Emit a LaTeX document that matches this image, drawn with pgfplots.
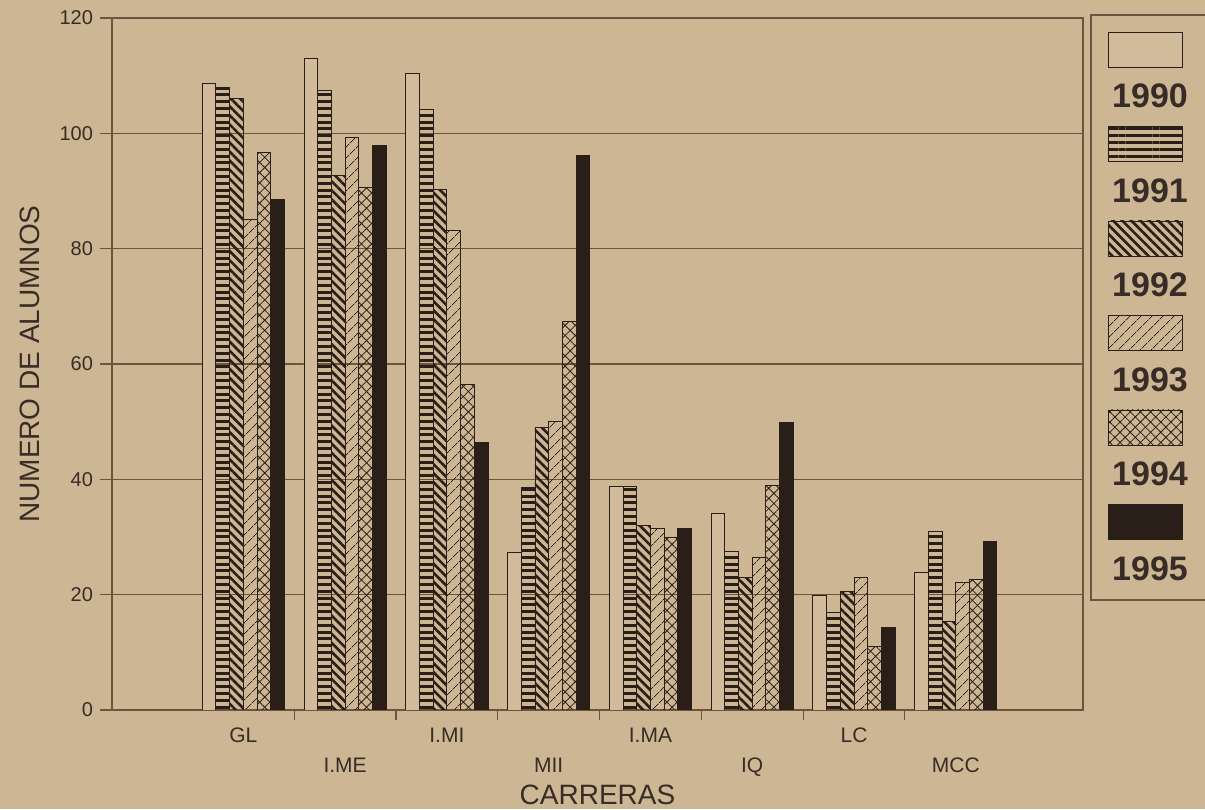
\documentclass[border=0pt]{standalone}
\usepackage{pgfplots}
\pgfplotsset{compat=1.18}
\usepackage{pgfplotstable}
\usepackage{fontspec}
\setmainfont{Liberation Sans}
\usetikzlibrary{patterns.meta}

\definecolor{paper}{RGB}{205,182,147}
\definecolor{ink}{RGB}{42,30,24}
\definecolor{rule}{RGB}{110,84,64}
\definecolor{txt}{RGB}{55,44,38}

\tikzset{
  s1990/.style={draw=ink, line width=0.45pt, fill=paper!93!white},
  s1991/.style={draw=ink, line width=0.45pt, pattern={Lines[angle=0,distance=3.4pt,line width=1.5pt]}, pattern color=ink},
  s1992/.style={draw=ink, line width=0.45pt, pattern={Lines[angle=-45,distance=3.2pt,line width=1.3pt]}, pattern color=ink},
  s1993/.style={draw=ink, line width=0.45pt, pattern={Lines[angle=45,distance=4pt,line width=0.4pt]}, pattern color=ink},
  s1994/.style={draw=ink, line width=0.45pt, pattern={Hatch[angle=45,distance=3.6pt,line width=0.4pt]}, pattern color=ink},
  s1995/.style={draw=ink, line width=0.45pt, fill=ink},
}

% alumnos por carrera y año
\pgfplotstableread{
x  a1990 a1991 a1992 a1993 a1994 a1995
0  108.6 108.0 106.0  85.0  96.6  88.5
1  113.0 107.5  92.7  99.2  90.6  97.9
2  110.3 104.2  90.2  83.2  56.4  46.4
3   27.3  38.6  49.0  50.0  67.4  96.2
4   38.7  38.7  32.0  31.5  30.0  31.4
5   34.0  27.5  23.0  26.5  39.0  49.9
6   19.8  16.9  20.6  22.9  11.0  14.3
7   23.8  30.9  15.3  22.2  22.6  29.2
}\alumnos

\begin{document}
\begin{tikzpicture}
\useasboundingbox (0,0) rectangle (602.5pt,404.5pt);
\fill[paper] (0,0) rectangle (602.5pt,404.5pt);

\begin{axis}[
    at={(56pt,49.5pt)}, anchor=south west,
    scale only axis, width=485.5pt, height=346pt,
    xmin=-1.29, xmax=8.25,
    ymin=0, ymax=120,
    ybar=0pt, bar width=6.85pt,
    axis line style={rule, line width=0.6pt},
    ymajorgrids=true,
    grid style={rule, line width=0.55pt},
    tick align=outside,
    tick style={rule, line width=0.6pt},
    major tick length=6pt, minor tick length=5pt,
    xtick pos=bottom, ytick pos=left,
    ytick={0,20,...,120},
    xtick={0,2,4,6},
    xticklabels={GL,I.MI,I.MA,LC},
    extra x ticks={1,3,5,7},
    extra x tick labels={I.ME,MII,IQ,MCC},
    extra x tick style={major x tick style={draw=none}, xticklabel style={yshift=-15pt}},
    major x tick style={draw=none},
    minor xtick={0.5,1.5,...,6.5},
    /pgf/number format/assume math mode=true,
    yticklabel style={font=\fontsize{10}{12}\selectfont, text=txt},
    xticklabel style={font=\fontsize{10.5}{12}\selectfont, text=txt, yshift=0.5pt},
    xlabel={CARRERAS},
    ylabel={NUMERO DE ALUMNOS},
    label style={font=\fontsize{14}{16}\selectfont, text=txt},
    xlabel style={at={(axis description cs:0.5,-0.123)}, anchor=center},
    ylabel style={at={(axis description cs:-0.085,0.5)}, anchor=center, rotate=0},
]
\addplot[s1990] table[x=x, y=a1990] {\alumnos};
\addplot[s1991] table[x=x, y=a1991] {\alumnos};
\addplot[s1992] table[x=x, y=a1992] {\alumnos};
\addplot[s1993] table[x=x, y=a1993] {\alumnos};
\addplot[s1994] table[x=x, y=a1994] {\alumnos};
\addplot[s1995] table[x=x, y=a1995] {\alumnos};
\end{axis}

% leyenda (coordenadas en pixeles de la imagen)
\begin{scope}[x=0.5pt, y=0.5pt]
\draw[rule, line width=0.6pt] (1091,209) rectangle (1230,794);
\foreach \s/\yt/\yl in {1990/777/713, 1991/682.5/618.5, 1992/588/524, 1993/493.5/429.5, 1994/399/335, 1995/304.5/240.5} {
  \path[s\s] (1108,\yt) rectangle (1182,\yt-35);
  \node[font=\fontsize{17}{20}\selectfont\bfseries, text=txt] at (1150,\yl) {\s};
}
\end{scope}
\end{tikzpicture}
\end{document}
